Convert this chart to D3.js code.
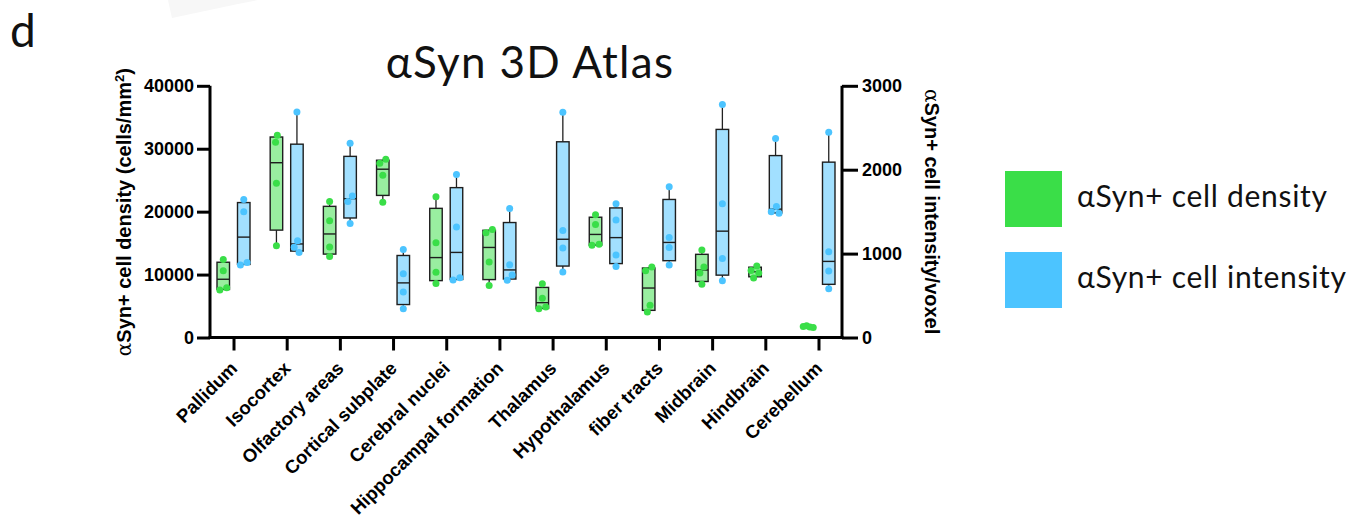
<!DOCTYPE html>
<html>
<head>
<meta charset="utf-8">
<script src="https://cdn.jsdelivr.net/npm/d3@7"></script>
<style>
  html, body { margin: 0; padding: 0; background: #fff; }
  svg { display: block; }
</style>
</head>
<body>
<svg id="chart" width="1354" height="518"></svg>
<script>
// ---------------- data ----------------
const categories = ["Pallidum", "Isocortex", "Olfactory areas", "Cortical subplate", "Cerebral nuclei",
  "Hippocampal formation", "Thalamus", "Hypothalamus", "fiber tracts", "Midbrain", "Hindbrain", "Cerebellum"];

// αSyn+ cell density (cells/mm²), 4 samples per region (left axis)
const densityValues = [
  [12410, 10610, 7900, 7550],
  [32140, 31030, 24520, 14580],
  [21610, 18540, 14370, 12880],
  [28330, 27700, 25790, 21510],
  [22350, 15050, 10350, 8600],
  [17170, 16640, 11980, 8280],
  [8540, 6220, 4850, 4550],
  [19500, 17960, 14800, 14650],
  [11190, 10610, 5110, 4050],
  [13890, 11200, 10250, 8450],
  [11350, 10650, 10250, 9450],
  [1850, 1760, 1680, 1600]
];

// αSyn+ cell intensity/voxel, 4 samples per region (right axis)
const intensityValues = [
  [1645, 1498, 895, 863],
  [2688, 1153, 1077, 1014],
  [2316, 1688, 1621, 1359],
  [1050, 760, 542, 343],
  [1943, 1316, 712, 685],
  [1538, 867, 744, 681],
  [2685, 1276, 1066, 780],
  [1593, 1399, 982, 847],
  [1796, 1193, 1073, 863],
  [2776, 1593, 942, 677],
  [2371, 1560, 1500, 1480],
  [2446, 1022, 792, 581]
];

const leftTicks = [0, 10000, 20000, 30000, 40000];
const rightTicks = [0, 1000, 2000, 3000];
const seriesNames = ["αSyn+ cell density", "αSyn+ cell intensity"];
const seriesColors = ["#3ade48", "#4cc4ff"];

// ---------------- layout ----------------
const svg = d3.select("#chart");
const plot = { left: 210, right: 842, top: 85.8, bottom: 337.5 };

const x = d3.scalePoint().domain(categories).range([plot.left, plot.right]).padding(0.442);
const sub = d3.scaleBand().domain(["density", "intensity"]).range([-20.5, 20.5]);
const yL = d3.scaleLinear().domain([0, 40000]).range([plot.bottom, plot.top]);
const yR = d3.scaleLinear().domain([0, 3000]).range([plot.bottom, plot.top]);

// faint artefact at top
svg.append("polygon").attr("points", "168,0 258,0 238,4 172,18").attr("fill", "#f7f7f7");

// panel letter
svg.append("text").attr("x", 10).attr("y", 47)
  .style("font-family", "Lato, 'Open Sans', sans-serif").style("font-size", "46px").attr("fill", "#111")
  .text("d");

// title
svg.append("text").attr("x", 530).attr("y", 78).attr("text-anchor", "middle")
  .style("font-family", "Lato, 'Open Sans', sans-serif").style("font-size", "44px")
  .style("letter-spacing", "1.3px").attr("fill", "#111")
  .text("αSyn 3D Atlas");

// ---------------- quartiles (GraphPad-style, n+1 interpolation) ----------------
function quant(sorted, p) {
  const n = sorted.length;
  let pos = (n + 1) * p; // 1-based
  if (pos <= 1) return sorted[0];
  if (pos >= n) return sorted[n - 1];
  const lo = Math.floor(pos), f = pos - lo;
  return sorted[lo - 1] + f * (sorted[lo] - sorted[lo - 1]);
}
function stats(vals) {
  const s = vals.slice().sort(d3.ascending);
  return { min: s[0], q1: quant(s, 0.25), med: d3.median(s), q3: quant(s, 0.75), max: s[s.length - 1] };
}

// simple beeswarm offsets
function swarm(vals, yScale, D, maxOff) {
  const pts = vals.map((v, i) => ({ v, y: yScale(v), x: 0, i }));
  const order = pts.slice().sort((a, b) => a.y - b.y);
  const placed = [];
  order.forEach(p => {
    const intervals = [];
    placed.forEach(q => {
      const dy = Math.abs(q.y - p.y);
      if (dy < D) {
        const dx = Math.sqrt(D * D - dy * dy);
        intervals.push([q.x - dx, q.x + dx]);
      }
    });
    const cands = [0];
    intervals.forEach(iv => { cands.push(iv[0], iv[1]); });
    cands.sort((a, b) => Math.abs(a) - Math.abs(b));
    const ok = c => intervals.every(iv => c <= iv[0] + 1e-6 || c >= iv[1] - 1e-6);
    p.x = cands.find(ok);
    placed.push(p);
  });
  // recentre clusters and keep them compact
  let cluster = [order[0]];
  const clusters = [];
  for (let k = 1; k < order.length; k++) {
    if (order[k].y - order[k - 1].y < D) cluster.push(order[k]);
    else { clusters.push(cluster); cluster = [order[k]]; }
  }
  clusters.push(cluster);
  clusters.forEach(c => {
    const m = d3.mean(c, d => d.x);
    c.forEach(d => { d.x -= m; });
    const ext = d3.max(c, d => Math.abs(d.x));
    if (ext > maxOff) c.forEach(d => { d.x *= maxOff / ext; });
  });
  return pts;
}

// ---------------- boxes ----------------
const boxW = 12.5;
const dotR = 3.5;
const groups = [
  { key: "density", values: densityValues, y: yL, color: seriesColors[0] },
  { key: "intensity", values: intensityValues, y: yR, color: seriesColors[1] }
];

const gBoxes = svg.append("g");
groups.forEach(gr => {
  categories.forEach((cat, ci) => {
    const vals = gr.values[ci];
    const st = stats(vals);
    const cx = x(cat) + sub(gr.key) + sub.bandwidth() / 2;
    const g = gBoxes.append("g");
    // whiskers
    g.append("line").attr("x1", cx).attr("x2", cx).attr("y1", gr.y(st.max)).attr("y2", gr.y(st.q3))
      .attr("stroke", "#222").attr("stroke-width", 1.3);
    g.append("line").attr("x1", cx).attr("x2", cx).attr("y1", gr.y(st.q1)).attr("y2", gr.y(st.min))
      .attr("stroke", "#222").attr("stroke-width", 1.3);
    // box
    g.append("rect").attr("x", cx - boxW / 2).attr("width", boxW)
      .attr("y", gr.y(st.q3)).attr("height", Math.max(0.5, gr.y(st.q1) - gr.y(st.q3)))
      .attr("fill", d3.interpolateRgb(gr.color, "#fff")(0.48))
      .attr("stroke", "#1e1e1e").attr("stroke-width", 1.4);
    g.append("line").attr("x1", cx - boxW / 2).attr("x2", cx + boxW / 2)
      .attr("y1", gr.y(st.med)).attr("y2", gr.y(st.med))
      .attr("stroke", "#1e1e1e").attr("stroke-width", 1.4);
    // dots
    const pts = swarm(vals, gr.y, 7.2, 5);
    g.selectAll("circle").data(pts).join("circle")
      .attr("cx", d => cx + d.x).attr("cy", d => d.y).attr("r", dotR)
      .attr("fill", gr.color);
  });
});

// ---------------- axes ----------------
const tickFont = "'Liberation Sans', Arial, sans-serif";

const axL = svg.append("g").attr("transform", `translate(${plot.left},0)`)
  .call(d3.axisLeft(yL).tickValues(leftTicks).tickSize(13).tickSizeOuter(0).tickPadding(3).tickFormat(d3.format("d")));
const axR = svg.append("g").attr("transform", `translate(${plot.right},0)`)
  .call(d3.axisRight(yR).tickValues(rightTicks).tickSize(16).tickSizeOuter(0).tickPadding(4).tickFormat(d3.format("d")));
const axB = svg.append("g").attr("transform", `translate(0,${plot.bottom})`)
  .call(d3.axisBottom(x).tickSize(13).tickSizeOuter(0));

[axL, axR, axB].forEach(a => {
  a.select(".domain").attr("stroke", "#000").attr("stroke-width", 3);
  a.selectAll(".tick line").attr("stroke", "#000").attr("stroke-width", 3);
  a.selectAll("text").attr("fill", "#000")
    .style("font-family", tickFont).style("font-weight", "bold").style("font-size", "18px");
});
// extend domain lines to meet at corners
axL.select(".domain").attr("d", `M0,${plot.bottom + 1.5}V${plot.top}`);
axR.select(".domain").attr("d", `M0,${plot.bottom + 1.5}V${plot.top}`);
axB.select(".domain").attr("transform", `translate(${plot.left - 1.5},0)`)
  .attr("d", `M0,0H${plot.right - plot.left + 3}`);

axB.selectAll(".tick text")
  .attr("x", 0).attr("y", 0).attr("dy", 0)
  .attr("text-anchor", "end")
  .attr("transform", "translate(4.5,32) rotate(-45)")
  .style("font-size", "18.5px");

// axis titles
const leftTitle = svg.append("text")
  .attr("transform", `translate(131,${(plot.top + plot.bottom) / 2 + 0.5}) rotate(-90)`)
  .attr("text-anchor", "middle")
  .style("font-family", tickFont).style("font-weight", "bold").style("font-size", "20px").attr("fill", "#000");
leftTitle.append("tspan").style("font-family", "'DejaVu Serif', serif").style("font-weight", "normal").text("α");
leftTitle.append("tspan").text("Syn+ cell density (cells/mm");
leftTitle.append("tspan").attr("dy", -7).style("font-size", "13px").text("2");
leftTitle.append("tspan").attr("dy", 7).text(")");

const rightTitle = svg.append("text")
  .attr("transform", `translate(925,${(plot.top + plot.bottom) / 2}) rotate(90)`)
  .attr("text-anchor", "middle")
  .style("font-family", tickFont).style("font-weight", "bold").style("font-size", "20px").attr("fill", "#000");
rightTitle.append("tspan").style("font-family", "'DejaVu Serif', serif").style("font-weight", "normal").text("α");
rightTitle.append("tspan").text("Syn+ cell intensity/voxel");

// ---------------- legend ----------------
const legend = svg.append("g");
seriesNames.forEach((name, i) => {
  legend.append("rect").attr("x", 1005).attr("y", 171 + i * 81).attr("width", 57).attr("height", 56)
    .attr("fill", seriesColors[i]);
  legend.append("text").attr("x", 1077).attr("y", 207 + i * 81)
    .style("font-family", "Lato, 'Open Sans', sans-serif").style("font-size", "30px")
    .style("letter-spacing", "0.7px").attr("fill", "#111")
    .text(name);
});
</script>
</body>
</html>
